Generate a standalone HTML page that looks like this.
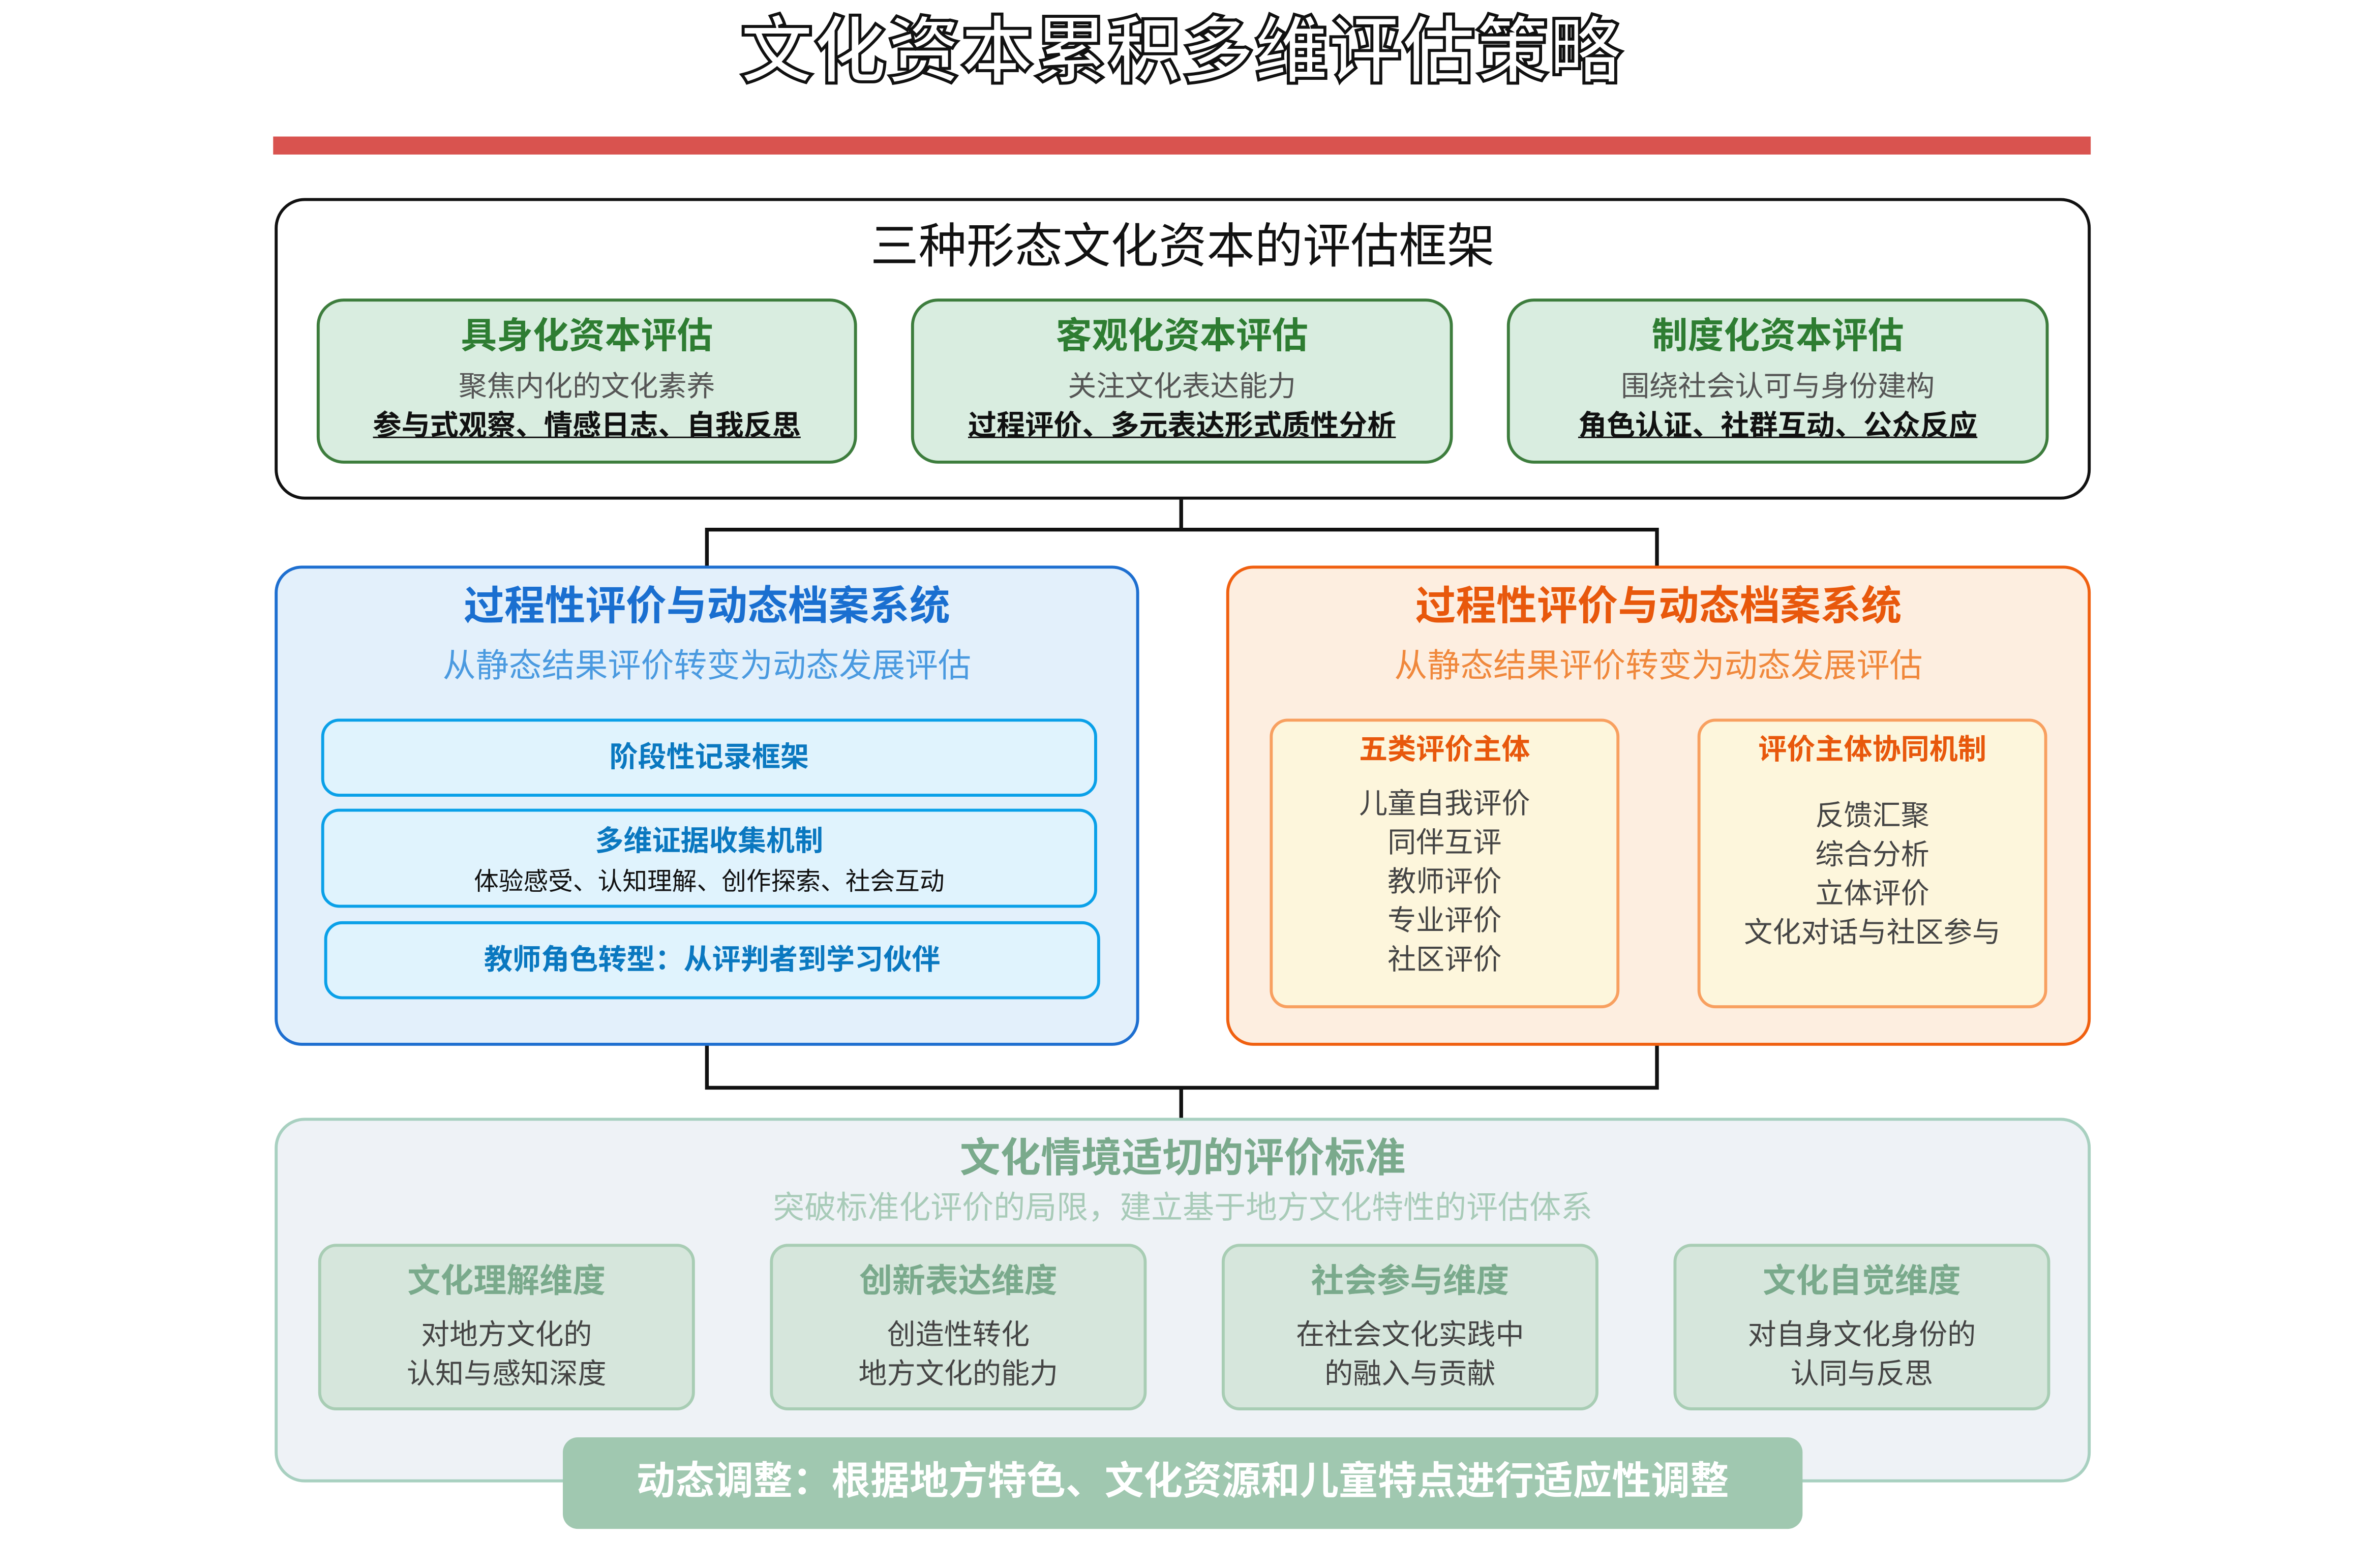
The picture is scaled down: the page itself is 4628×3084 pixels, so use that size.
<!DOCTYPE html>
<html><head><meta charset="utf-8"><style>
*{margin:0;padding:0;box-sizing:border-box}
body{width:4628px;height:3084px;background:#fff;overflow:hidden;font-family:"Liberation Sans","Noto Sans CJK SC",sans-serif}
#s{position:absolute;left:0;top:0;width:1568px;height:1045px;transform:scale(2.952,2.951);transform-origin:0 0}
.a{position:absolute}
.t{position:absolute;left:0;right:0;text-align:center;white-space:nowrap;line-height:1}
.b{font-weight:bold}
</style></head><body><div id="s">
<div class="t" style="top:11px;font-size:49px;font-weight:bold;color:#fff;-webkit-text-stroke:2px #111;left:0;right:auto;width:1574px">文化资本累积多维评估策略</div>
<div class="a" style="left:182px;top:91px;width:1211px;height:12px;background:#d9534f"></div>

<div class="a" style="left:183px;top:132px;width:1210px;height:201px;border:2.5px solid #111;border-radius:20px"></div>
<div class="t" style="top:148px;font-size:32px;color:#111;right:auto;width:1576px">三种形态文化资本的评估框架</div>

<div class="a" style="left:211px;top:199px;width:360px;height:110px;background:#d9ede0;border:2px solid #3d7d3d;border-radius:18px">
<div class="t b" style="top:12px;font-size:24px;color:#2e7d32">具身化资本评估</div>
<div class="t" style="top:48px;font-size:19px;color:#555">聚焦内化的文化素养</div>
<div class="t b" style="top:74px;font-size:19px;color:#111;text-decoration:underline">参与式观察、情感日志、自我反思</div></div>
<div class="a" style="left:607px;top:199px;width:361px;height:110px;background:#d9ede0;border:2px solid #3d7d3d;border-radius:18px">
<div class="t b" style="top:12px;font-size:24px;color:#2e7d32">客观化资本评估</div>
<div class="t" style="top:48px;font-size:19px;color:#555">关注文化表达能力</div>
<div class="t b" style="top:74px;font-size:19px;color:#111;text-decoration:underline">过程评价、多元表达形式质性分析</div></div>
<div class="a" style="left:1004px;top:199px;width:361px;height:110px;background:#d9ede0;border:2px solid #3d7d3d;border-radius:18px">
<div class="t b" style="top:12px;font-size:24px;color:#2e7d32">制度化资本评估</div>
<div class="t" style="top:48px;font-size:19px;color:#555">围绕社会认可与身份建构</div>
<div class="t b" style="top:74px;font-size:19px;color:#111;text-decoration:underline">角色认证、社群互动、公众反应</div></div>

<svg class="a" style="left:0;top:0" width="1568" height="1045"><g stroke="#111" stroke-width="2.5" fill="none">
<path d="M787 333V353M471 377V353H1104V377"/>
<path d="M471 696V725H1104V696M787 725V745"/></g></svg>

<div class="a" style="left:183px;top:377px;width:576px;height:320px;background:#e3f0fb;border:2px solid #1e6fd0;border-radius:18px"></div>
<div class="t b" style="left:183px;right:auto;width:576px;top:391px;font-size:27px;color:#1a6fd0">过程性评价与动态档案系统</div>
<div class="t" style="left:183px;right:auto;width:576px;top:433px;font-size:22px;color:#4a9ae0">从静态结果评价转变为动态发展评估</div>
<div class="a" style="left:214px;top:479px;width:517px;height:52px;background:#e0f3fd;border:2px solid #0aa0e8;border-radius:12px"><div class="t b" style="top:15px;font-size:19px;color:#0a78c0">阶段性记录框架</div></div>
<div class="a" style="left:214px;top:539px;width:517px;height:66px;background:#e0f3fd;border:2px solid #0aa0e8;border-radius:12px"><div class="t b" style="top:11px;font-size:19px;color:#0a78c0">多维证据收集机制</div><div class="t" style="top:39px;font-size:16.5px;color:#111">体验感受、认知理解、创作探索、社会互动</div></div>
<div class="a" style="left:216px;top:614px;width:517px;height:52px;background:#e0f3fd;border:2px solid #0aa0e8;border-radius:12px"><div class="t b" style="top:15px;font-size:19px;color:#0a78c0">教师角色转型：从评判者到学习伙伴</div></div>

<div class="a" style="left:817px;top:377px;width:576px;height:320px;background:#fdeee0;border:2px solid #f06010;border-radius:18px"></div>
<div class="t b" style="left:817px;right:auto;width:576px;top:391px;font-size:27px;color:#e8580c">过程性评价与动态档案系统</div>
<div class="t" style="left:817px;right:auto;width:576px;top:433px;font-size:22px;color:#f0883c">从静态结果评价转变为动态发展评估</div>
<div class="a" style="left:846px;top:479px;width:233px;height:193px;background:#fdf6dc;border:2px solid #f8a060;border-radius:12px">
<div class="t b" style="top:10px;font-size:19px;color:#e8580c">五类评价主体</div>
<div class="t" style="top:43px;font-size:19px;color:#444;line-height:26px;white-space:normal">儿童自我评价<br>同伴互评<br>教师评价<br>专业评价<br>社区评价</div></div>
<div class="a" style="left:1131px;top:479px;width:233px;height:193px;background:#fdf6dc;border:2px solid #f8a060;border-radius:12px">
<div class="t b" style="top:10px;font-size:19px;color:#e8580c">评价主体协同机制</div>
<div class="t" style="top:51px;font-size:19px;color:#444;line-height:26px;white-space:normal">反馈汇聚<br>综合分析<br>立体评价<br>文化对话与社区参与</div></div>

<div class="a" style="left:183px;top:745px;width:1210px;height:243px;background:#eef2f6;border:2px solid #a8d0c0;border-radius:20px"></div>
<div class="t b" style="top:759px;font-size:27px;color:#7aaa8c;right:auto;width:1576px">文化情境适切的评价标准</div>
<div class="t" style="top:795px;font-size:21px;color:#a8cbb8;right:auto;width:1576px">突破标准化评价的局限，建立基于地方文化特性的评估体系</div>
<div class="a" style="left:212px;top:829px;width:251px;height:111px;background:#d6e6dc;border:2px solid #a8cdb4;border-radius:12px"><div class="t b" style="top:12px;font-size:22px;color:#7aaa8c">文化理解维度</div><div class="t" style="top:47px;font-size:19px;color:#444;line-height:26px">对地方文化的<br>认知与感知深度</div></div>
<div class="a" style="left:513px;top:829px;width:251px;height:111px;background:#d6e6dc;border:2px solid #a8cdb4;border-radius:12px"><div class="t b" style="top:12px;font-size:22px;color:#7aaa8c">创新表达维度</div><div class="t" style="top:47px;font-size:19px;color:#444;line-height:26px">创造性转化<br>地方文化的能力</div></div>
<div class="a" style="left:814px;top:829px;width:251px;height:111px;background:#d6e6dc;border:2px solid #a8cdb4;border-radius:12px"><div class="t b" style="top:12px;font-size:22px;color:#7aaa8c">社会参与维度</div><div class="t" style="top:47px;font-size:19px;color:#444;line-height:26px">在社会文化实践中<br>的融入与贡献</div></div>
<div class="a" style="left:1115px;top:829px;width:251px;height:111px;background:#d6e6dc;border:2px solid #a8cdb4;border-radius:12px"><div class="t b" style="top:12px;font-size:22px;color:#7aaa8c">文化自觉维度</div><div class="t" style="top:47px;font-size:19px;color:#444;line-height:26px">对自身文化身份的<br>认同与反思</div></div>
<div class="a" style="left:375px;top:958px;width:826px;height:61px;background:#a0c8b0;border-radius:10px"><div class="t b" style="top:16px;font-size:26px;color:#fff">动态调整：根据地方特色、文化资源和儿童特点进行适应性调整</div></div>
</div></body></html>
